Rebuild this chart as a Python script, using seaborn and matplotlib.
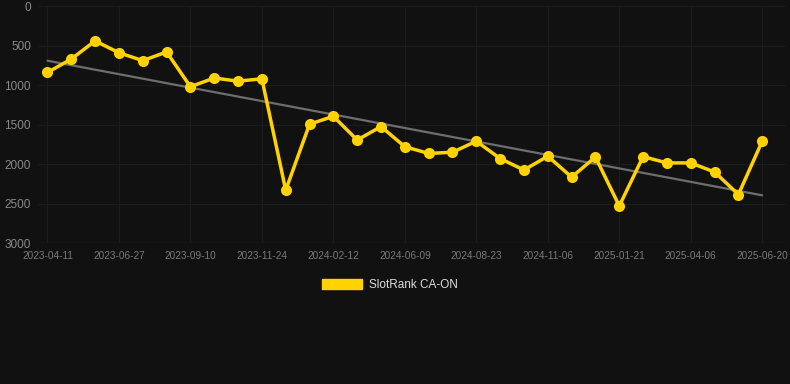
import numpy as np
import pandas as pd
import matplotlib
matplotlib.use("Agg")
import matplotlib.pyplot as plt
import seaborn as sns
from matplotlib.patches import Patch

# Rank values (one point per step, lower = better)
ranks = [840, 670, 440, 590, 690, 580, 1020, 910, 950, 920,
         2330, 1495, 1395, 1695, 1525, 1780, 1865, 1850, 1710, 1930,
         2075, 1900, 2165, 1910, 2530, 1905, 1985, 1985, 2100, 2385,
         1710]
tick_labels = ["2023-04-11", "2023-06-27", "2023-09-10", "2023-11-24",
               "2024-02-12", "2024-06-09", "2024-08-23", "2024-11-06",
               "2025-01-21", "2025-04-06", "2025-06-20"]
series_name = "SlotRank CA-ON"

BG = "#111111"
GOLD = "#FFD200"

df = pd.DataFrame({"idx": np.arange(len(ranks)), "rank": ranks})

sns.set_theme(style="dark")
plt.rcParams["font.family"] = ["Liberation Sans", "DejaVu Sans"]

fig = plt.figure(figsize=(7.9, 3.84), dpi=100, facecolor=BG)
ax = fig.add_axes([0.048, 0.367, 0.947, 0.617])
ax.set_facecolor(BG)

# linear trend
coef = np.polyfit(df["idx"], df["rank"], 1)
df["trend"] = np.polyval(coef, df["idx"])
sns.lineplot(data=df, x="idx", y="trend", ax=ax, color="#6e6e6e", linewidth=1.6)

sns.lineplot(data=df, x="idx", y="rank", ax=ax, color=GOLD, linewidth=2.5,
             marker="o", markersize=8, markeredgewidth=0, markeredgecolor=GOLD)

ax.set_ylim(3000, 0)
ax.set_yticks([0, 500, 1000, 1500, 2000, 2500, 3000])
ax.set_xlim(-0.4, 31.0)
ax.set_xticks(np.arange(0, len(ranks), 3))
ax.set_xticklabels(tick_labels)
ax.set_xlabel("")
ax.set_ylabel("")

ax.grid(True, color="#1c1c1c", linewidth=0.8)
for s in ax.spines.values():
    s.set_visible(False)
ax.axhline(3000, color="#2a2a2a", linewidth=0.9, zorder=0)
ax.tick_params(axis="y", colors="#8a8a8a", labelsize=8.5, length=0, pad=5)
ax.tick_params(axis="x", colors="#7a7a7a", labelsize=7.2, length=0, pad=6)

fig.legend(handles=[Patch(facecolor=GOLD, edgecolor=GOLD, label=series_name)],
           loc="center", bbox_to_anchor=(0.4935, 0.258), frameon=False,
           handlelength=3.4, handleheight=1.0, handletextpad=0.6,
           fontsize=8.5, labelcolor="#dddddd")

fig.savefig("out.png", facecolor=BG)
